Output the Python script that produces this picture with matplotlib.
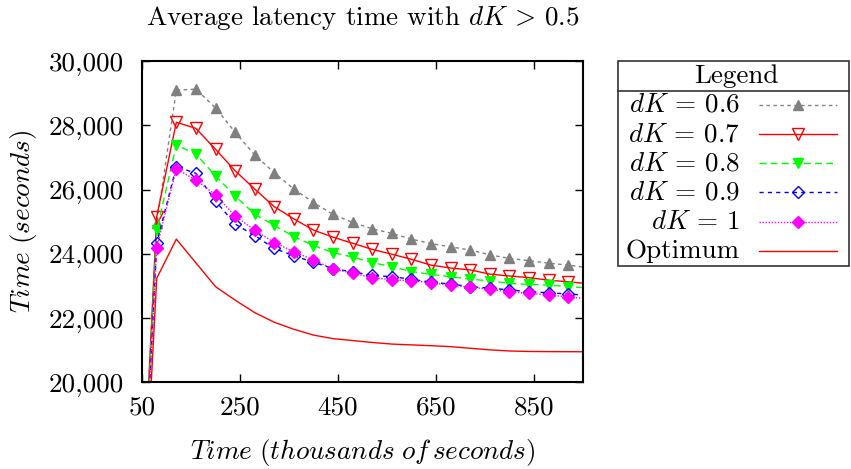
import matplotlib
matplotlib.use("Agg")
import matplotlib.pyplot as plt
from matplotlib.lines import Line2D
from matplotlib.patches import Rectangle
from matplotlib.ticker import FuncFormatter, MultipleLocator

plt.rcParams["font.family"] = "serif"
plt.rcParams["font.serif"] = ["cmr10", "DejaVu Serif"]
plt.rcParams["mathtext.fontset"] = "cm"
plt.rcParams["axes.unicode_minus"] = False

# thousands of seconds
time_k = [0, 80, 120, 160, 200, 240, 280, 320, 360, 400, 440, 480, 520, 560,
          600, 640, 680, 720, 760, 800, 840, 880, 920, 960]

latency_06 = [0, 24950, 29100, 29130, 28550, 27790, 27080, 26530, 26020, 25600,
              25230, 24980, 24780, 24640, 24460, 24320, 24220, 24120, 23970,
              23860, 23790, 23710, 23650, 23570]
latency_07 = [0, 25160, 28100, 27910, 27260, 26590, 26020, 25470, 25090, 24740,
              24520, 24330, 24140, 23990, 23830, 23650, 23560, 23500, 23370,
              23310, 23260, 23180, 23130, 23070]
latency_08 = [0, 24740, 27390, 27110, 26430, 25800, 25240, 24890, 24540, 24260,
              24040, 23900, 23730, 23600, 23450, 23360, 23290, 23210, 23160,
              23080, 23050, 23030, 22980, 22940]
latency_09 = [0, 24330, 26720, 26510, 25650, 24930, 24570, 24170, 23940, 23740,
              23540, 23440, 23330, 23290, 23210, 23120, 23060, 22980, 22930,
              22880, 22820, 22790, 22750, 22710]
latency_10 = [0, 24190, 26650, 26300, 25840, 25180, 24740, 24350, 24070, 23810,
              23530, 23400, 23260, 23190, 23170, 23100, 23030, 22960, 22900,
              22820, 22770, 22720, 22660, 22600]
latency_opt = [0, 23240, 24460, 23720, 22980, 22560, 22170, 21870, 21650, 21470,
               21360, 21300, 21240, 21190, 21165, 21140, 21110, 21060, 21010,
               20975, 20960, 20955, 20953, 20950]

labels = [r"$dK\,=\,0.6$", r"$dK\,=\,0.7$", r"$dK\,=\,0.8$", r"$dK\,=\,0.9$",
          r"$dK\,=\,1$", "Optimum"]

styles = [
    dict(color="#808080", linestyle=(0, (2.5, 2.5)), marker="^", ms=7,
         mfc="#808080", mec="#808080"),
    dict(color="#ff0000", linestyle="-", marker="v", ms=9,
         mfc="none", mec="#ff0000"),
    dict(color="#00ff00", linestyle=(0, (5, 3)), marker="v", ms=7.5,
         mfc="#00ff00", mec="#00ff00"),
    dict(color="#0000ff", linestyle=(0, (3, 3)), marker="D", ms=6.5,
         mfc="none", mec="#0000ff"),
    dict(color="#ff00ff", linestyle=(0, (1, 1.2)), marker="D", ms=6.5,
         mfc="#ff00ff", mec="#ff00ff"),
    dict(color="#ff0000", linestyle="-", marker=None),
]

series = [latency_06, latency_07, latency_08, latency_09, latency_10, latency_opt]

fig = plt.figure(figsize=(8.51, 4.69), dpi=100)
ax = fig.add_axes([0.1669, 0.1849, 0.685 - 0.1669, 0.8693 - 0.1849])

for ys, st in zip(series, styles):
    ax.plot(time_k, ys, lw=1.0, **st)

ax.set_xlim(50, 950)
ax.set_ylim(20000, 30000)
ax.set_xticks([50, 250, 450, 650, 850])
ax.yaxis.set_major_locator(MultipleLocator(2000))
ax.yaxis.set_major_formatter(FuncFormatter(lambda v, p: f"{int(v):,}"))
ax.tick_params(direction="in", length=6, width=1, top=True, right=True,
               labelsize=19.5)
ax.tick_params(axis="x", pad=10)
ax.tick_params(axis="y", pad=13)
for sp in ax.spines.values():
    sp.set_linewidth(1.5)

ax.set_title(r"Average latency time with $dK\,>\,0.5$", fontsize=19.5, pad=26)
ax.set_ylabel(r"$Time\ (seconds)$", fontsize=19.5, labelpad=7)
ax.set_xlabel(r"$Time\ (thousands\ of\,seconds)$", fontsize=19.5, labelpad=12)

# legend box drawn by hand (gnuplot style: right-aligned labels, sample on the right)
W, H = 851.0, 469.0
lg = fig.add_axes([0, 0, 1, 1], facecolor="none")
lg.set_xlim(0, W)
lg.set_ylim(H, 0)
lg.axis("off")
lg.add_patch(Rectangle((617.5, 61.5), 231, 205, fill=False, lw=1.2, ec="#333333"))
lg.plot([617.5, 848.5], [91, 91], color="#333333", lw=1.2)
lg.text(736.5, 76, "Legend", ha="center", va="center", fontsize=19.5)
row_y = [105, 134.5, 163.5, 192.5, 222, 251.5]
for y, lab, st in zip(row_y, labels, styles):
    lg.text(740, y, lab, ha="right", va="center", fontsize=19.5)
    lg.add_line(Line2D([759, 837], [y, y], lw=1.0,
                       color=st["color"], linestyle=st["linestyle"]))
    if st["marker"]:
        lg.add_line(Line2D([798], [y], linestyle="none", marker=st["marker"],
                           ms=st["ms"], mfc=st["mfc"], mec=st["mec"]))

fig.savefig("out.png", dpi=100)
